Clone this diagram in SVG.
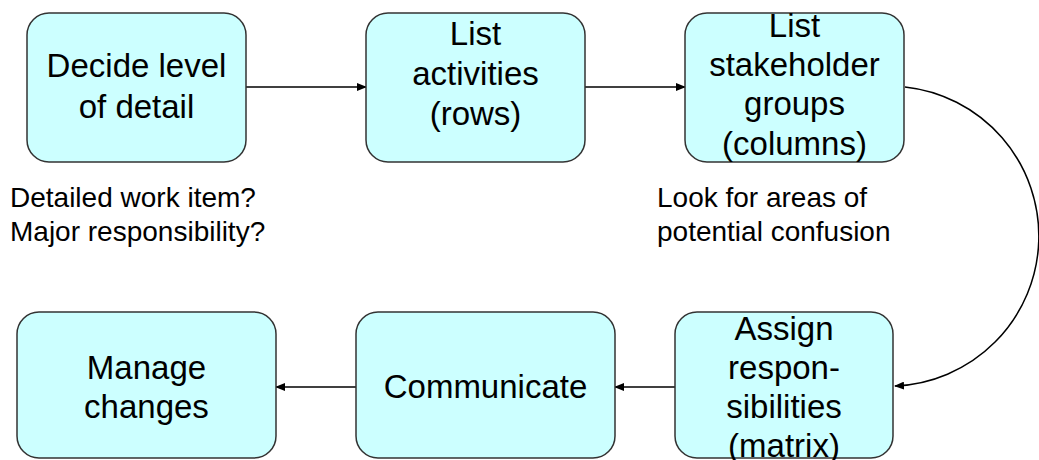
<svg xmlns="http://www.w3.org/2000/svg" width="1039" height="460" viewBox="0 0 1039 460">
<style>
.box{fill:#CCFFFF;stroke:#333333;stroke-width:1.5}
.t{font-family:"Liberation Sans",Arial,sans-serif;font-size:33px;fill:#000;text-anchor:middle}
.n{font-family:"Liberation Sans",Arial,sans-serif;font-size:28px;fill:#000}
.c{fill:none;stroke:#000;stroke-width:1.5}
</style>
<defs>
<marker id="ah" markerWidth="10" markerHeight="8" refX="9" refY="4" orient="auto" markerUnits="userSpaceOnUse">
<path d="M0,0 L10,4 L0,8 Z" fill="#000"/>
</marker>
</defs>
<g id="connectors">
<line class="c" x1="246" y1="87" x2="366" y2="87" marker-end="url(#ah)"/>
<line class="c" x1="585" y1="87" x2="685" y2="87" marker-end="url(#ah)"/>
<path class="c" d="M905,87 A150,150 0 0 1 895,386" marker-end="url(#ah)"/>
<line class="c" x1="675" y1="387" x2="615" y2="387" marker-end="url(#ah)"/>
<line class="c" x1="356" y1="387" x2="276" y2="387" marker-end="url(#ah)"/>
</g>
<g id="n1">
<rect class="box" x="27" y="13" width="219" height="149" rx="22"/>
<text class="t" x="136.5" y="77">Decide level</text>
<text class="t" x="136.5" y="118">of detail</text>
</g>
<g id="n2">
<rect class="box" x="366" y="13" width="219" height="149" rx="22"/>
<text class="t" x="475.5" y="45">List</text>
<text class="t" x="475.5" y="85">activities</text>
<text class="t" x="475.5" y="125">(rows)</text>
</g>
<g id="n3">
<rect class="box" x="685" y="13" width="219" height="149" rx="22"/>
<text class="t" x="794.5" y="37">List</text>
<text class="t" x="794.5" y="76">stakeholder</text>
<text class="t" x="794.5" y="115">groups</text>
<text class="t" x="794.5" y="155">(columns)</text>
</g>
<g id="n4">
<rect class="box" x="675" y="312" width="218" height="146" rx="22"/>
<text class="t" x="784" y="340">Assign</text>
<text class="t" x="784" y="379">respon-</text>
<text class="t" x="784" y="418">sibilities</text>
<text class="t" x="784" y="457">(matrix)</text>
</g>
<g id="n5">
<rect class="box" x="356" y="312" width="259" height="146" rx="22"/>
<text class="t" x="485.5" y="398">Communicate</text>
</g>
<g id="n6">
<rect class="box" x="17" y="312" width="259" height="146" rx="22"/>
<text class="t" x="146.5" y="379">Manage</text>
<text class="t" x="146.5" y="418">changes</text>
</g>
<g id="notes">
<text class="n" x="10" y="207">Detailed work item?</text>
<text class="n" x="10" y="241">Major responsibility?</text>
<text class="n" x="657" y="207">Look for areas of</text>
<text class="n" x="657" y="241">potential confusion</text>
</g>
</svg>
